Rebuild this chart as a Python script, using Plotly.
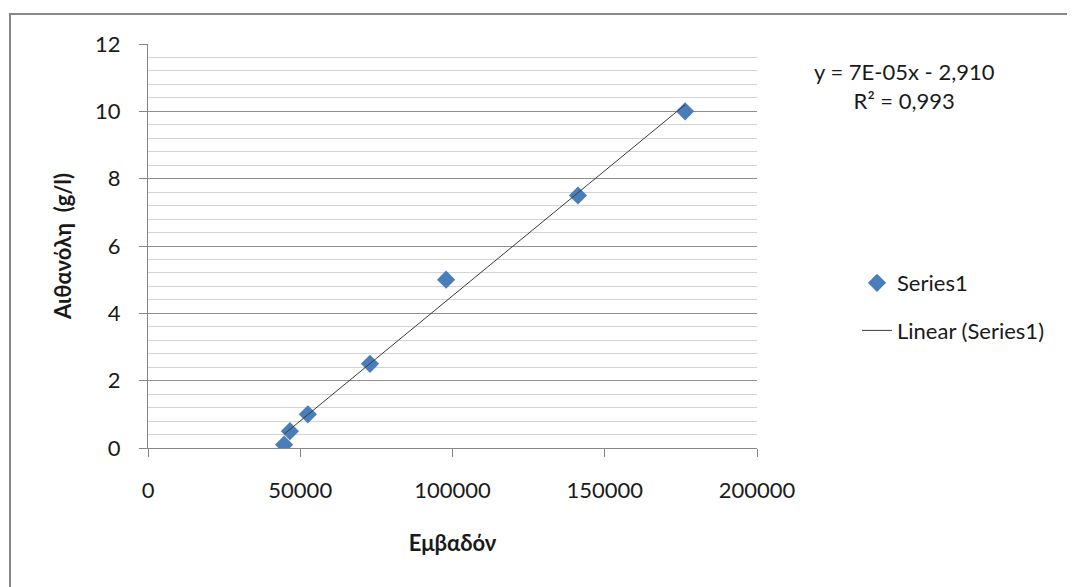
import numpy as np
import plotly.graph_objects as go

# Data
area = [44700, 46600, 52500, 72900, 97900, 141200, 176400]
ethanol = [0.1, 0.5, 1.0, 2.5, 5.0, 7.5, 10.0]
series_name = "Series1"
trend_name = "Linear (Series1)"
x_title = "Εμβαδόν"
y_title = "Αιθανόλη\u00a0\u00a0(g/l)"
eq_text = "y = 7E-05x - 2,910<br>R² = 0,993"

# Linear trendline from the data
slope, intercept = np.polyfit(area, ethanol, 1)
tx = [min(area), max(area)]
ty = [slope * v + intercept for v in tx]

FONT = "Lato"
OFF = 8  # page body margin
W, H = 1075 - OFF, 587 - OFF
PL, PR, PT, PB = 148, 757, 44, 448  # plot area in screen pixels
L, R, T, B = PL - OFF, W - (PR - OFF), PT - OFF, H - (PB - OFF)
pw, ph = PR - PL, PB - PT


def px(xs):
    return (xs - PL) / pw


def py(ys):
    return (PB - ys) / ph


fig = go.Figure()
fig.add_trace(go.Scatter(
    x=area, y=ethanol, mode="markers", name=series_name,
    marker=dict(symbol="diamond", size=14, color="#4a7ebb"),
    legendgroup="a",
))
fig.add_trace(go.Scatter(
    x=tx, y=ty, mode="lines", name=trend_name,
    line=dict(color="#3a3a3a", width=1),
    legendgroup="b",
))

fig.update_layout(
    width=W, height=H,
    margin=dict(l=L, r=R, t=T, b=B, pad=0),
    paper_bgcolor="white", plot_bgcolor="white",
    font=dict(family=FONT, size=22, color="#1a1a1a"),
    showlegend=True,
    legend=dict(
        x=px(857), xanchor="left",
        y=py(262), yanchor="top",
        font=dict(family=FONT, size=22, color="#1a1a1a"),
        tracegroupgap=16, bgcolor="rgba(0,0,0,0)",
        itemwidth=30,
    ),
    xaxis=dict(
        range=[0, 200000], dtick=50000, tick0=0, tickformat="d",
        showgrid=False, zeroline=False,
        showline=True, linecolor="#868686", linewidth=1,
        ticks="outside", ticklen=8, tickcolor="#868686",
        ticklabelstandoff=15,
        tickfont=dict(family=FONT, size=22, color="#1a1a1a"),
        title=dict(text=x_title, standoff=33,
                   font=dict(family=FONT, size=22, color="#1a1a1a", weight="bold")),
    ),
    yaxis=dict(
        range=[0, 12], dtick=2, tick0=0,
        showgrid=True, gridcolor="#8f8f8f", gridwidth=1,
        zeroline=False,
        showline=True, linecolor="#868686", linewidth=1,
        ticks="outside", ticklen=8, tickcolor="#868686",
        ticklabelstandoff=14,
        tickfont=dict(family=FONT, size=22, color="#1a1a1a"),
        minor=dict(dtick=0.4, showgrid=True, gridcolor="#d3d3d3", gridwidth=1),
        title=dict(text=y_title, standoff=17,
                   font=dict(family=FONT, size=22, color="#1a1a1a", weight="bold")),
    ),
)

# outer chart border (only left and top edges visible in the frame)
fig.add_shape(type="rect", xref="paper", yref="paper",
              x0=px(10), x1=2.0, y0=-2.0, y1=py(14),
              line=dict(color="#878787", width=2), layer="below")

fig.add_annotation(
    xref="paper", yref="paper",
    x=px(904), y=py(86),
    text=eq_text, showarrow=False, align="center",
    xanchor="center", yanchor="middle",
    font=dict(family=FONT, size=22, color="#1a1a1a"),
)

fig.write_html("out.html")
